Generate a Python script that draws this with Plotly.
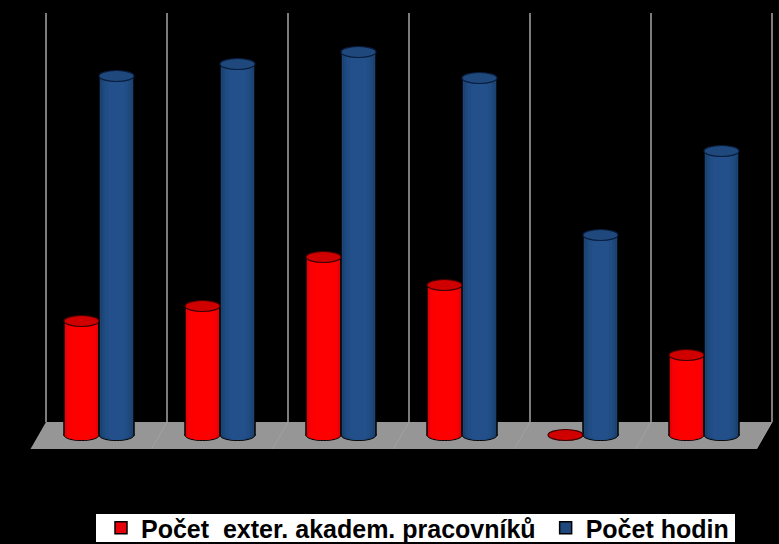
import plotly.graph_objects as go

# Values (bar height above the floor, in the chart's own units)
categories = [0, 1, 2, 3, 4, 5]
pocet_pracovniku = [114, 129, 178, 150, 0, 80]
pocet_hodin = [359, 371, 383, 357, 200, 284]
series_names = ["Počet\u00a0\u00a0exter. akadem. pracovníků", "Počet hodin"]

W, H = 779, 544
PX = 121.0                # pixels per category
X0 = 46.0                 # pixel of category boundary 0
Y0 = 435.0                # pixel of value 0
BAR = 35 / PX
OFF = [35.5 / PX, 70.5 / PX]
RY = 5.5                  # ellipse half height
WALL_TOP = 422
FLOOR_BACK = 13
FLOOR_FRONT = -14
SHIFT = 15.5 / PX

RED = ["#d80000", "#ea0000", "#f6000a", "#fc0000", "#ff0000"]
BLUE = ["#17375e", "#1b4170", "#1e487c", "#214d85", "#23508a"]
WIDTHS = [1.0, 0.92, 0.82, 0.68, 0.48]
TOP_FILL = ["#d00000", "#1f497d"]
TOP_LINE = ["#400000", "#0a1c3c"]
LEGEND_COLORS = ["#e8000a", "#1f497d"]

fig = go.Figure()
shapes = []


def half_ellipse(cx, half_w, ry):
    k = ry * 4 / 3
    return (f"M{cx - half_w},1 L{cx - half_w},0 C{cx - half_w},{-k} {cx + half_w},{-k} "
            f"{cx + half_w},0 L{cx + half_w},1")


# floor and wall lines
n = len(categories)
shapes.append(dict(type="path", layer="below", xref="x", yref="y",
                   path=f"M0,{FLOOR_BACK} L{n},{FLOOR_BACK} L{n-SHIFT},{FLOOR_FRONT} L{-SHIFT},{FLOOR_FRONT} Z",
                   fillcolor="#969696", line=dict(width=0)))
for i in range(n + 1):
    shapes.append(dict(type="line", layer="below", xref="x", yref="y", x0=i, x1=i,
                       y0=FLOOR_BACK, y1=WALL_TOP, line=dict(color="#a6a6a6", width=1.5)))
    if 0 < i:
        shapes.append(dict(type="line", layer="below", xref="x", yref="y", x0=i, x1=i - SHIFT,
                           y0=FLOOR_BACK, y1=FLOOR_FRONT, line=dict(color="#a2a2a2", width=1)))

for s, (vals, shades) in enumerate(zip([pocet_pracovniku, pocet_hodin], [RED, BLUE])):
    xs = [c + OFF[s] for c in categories]
    for k, (shade, wf) in enumerate(zip(shades, WIDTHS)):
        fig.add_trace(go.Bar(
            x=xs, y=vals, width=BAR * wf, name=series_names[s],
            showlegend=k == 0, legendgroup=series_names[s],
            marker=dict(color=LEGEND_COLORS[s] if k == 0 else shade,
                        line=dict(color="#000000", width=1.5 if k == 0 else 0)),
            hoverinfo="skip",
        ))
    for x, v in zip(xs, vals):
        # rounded bottom of the cylinder
        if v > 0:
            shapes.append(dict(type="path", xref="x", yref="y", path=half_ellipse(x, BAR / 2, RY),
                               fillcolor=shades[0], line=dict(color="#000000", width=1)))
            for shade, wf in list(zip(shades, WIDTHS))[1:]:
                shapes.append(dict(type="path", xref="x", yref="y",
                                   path=half_ellipse(x, BAR * wf / 2, RY - 0.5),
                                   fillcolor=shade, line=dict(width=0)))
        # top of the cylinder
        shapes.append(dict(type="circle", xref="x", yref="y", x0=x - BAR / 2, x1=x + BAR / 2,
                           y0=v - RY, y1=v + RY, fillcolor=TOP_FILL[s],
                           line=dict(color=TOP_LINE[s], width=1.2)))

# white panel behind the legend
shapes.append(dict(type="rect", layer="below", xref="paper", yref="paper",
                   x0=96 / W, x1=735 / W, y0=1 - 542 / H, y1=1 - 514 / H,
                   fillcolor="#ffffff", line=dict(width=0)))

fig.update_layout(
    width=W, height=H, autosize=False,
    margin=dict(l=0, r=0, t=0, b=0, autoexpand=False),
    paper_bgcolor="#000000", plot_bgcolor="#000000",
    barmode="overlay", shapes=shapes,
    xaxis=dict(range=[-X0 / PX, (W - X0) / PX], visible=False, fixedrange=True),
    yaxis=dict(range=[Y0 - H, Y0], visible=False, fixedrange=True),
    legend=dict(orientation="h", x=96 / W, xanchor="left", y=1 - 528 / H, yanchor="middle",
                bgcolor="rgba(0,0,0,0)", borderwidth=0, indentation=5,
                font=dict(family="Liberation Sans, Arial, sans-serif", size=25, color="#000000", weight="bold"),
                itemclick=False, itemdoubleclick=False),
    hovermode=False,
    showlegend=True,
)
fig.write_html("out.html", config={"displayModeBar": False},
               post_script="document.body.style.margin='0';document.body.style.background='#000';")
